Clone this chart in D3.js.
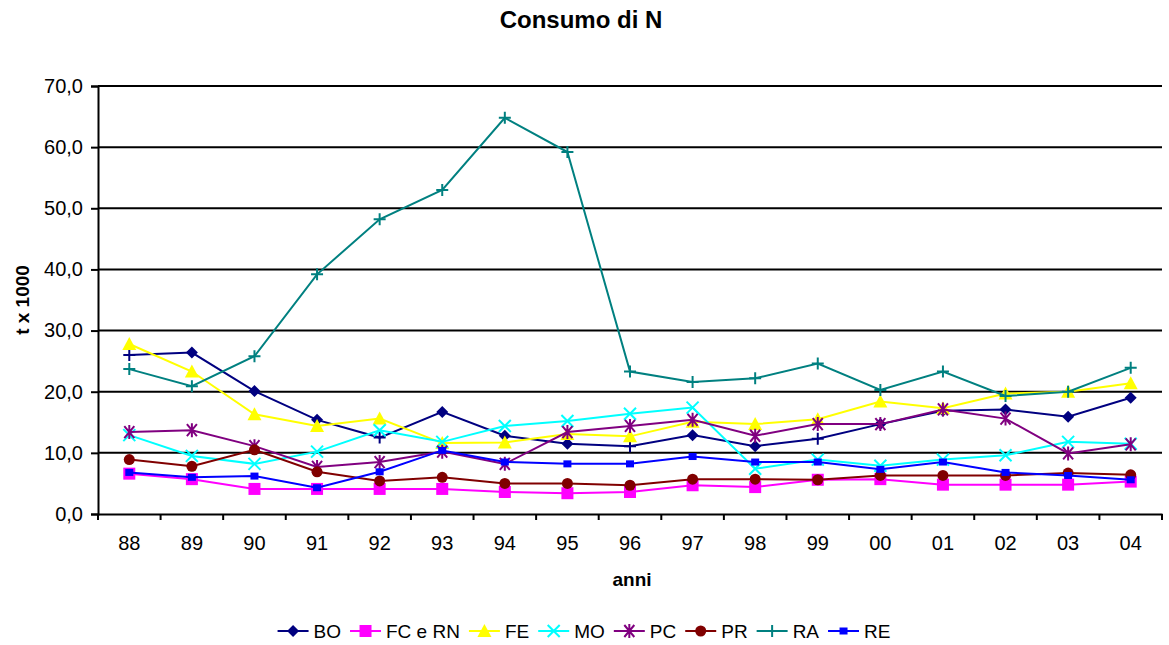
<!DOCTYPE html>
<html>
<head>
    <title>Consumo di N</title>
    <script src="https://d3js.org/d3.v7.min.js"></script>
    <style>
        body { margin: 0; background: #fff; }
        text { font-family: "Liberation Sans", Arial, sans-serif; fill: #000; }
    </style>
</head>
<body>
    <svg width="1169" height="645"></svg>
    <script>
        // anni
        const anni = ["88", "89", "90", "91", "92", "93", "94", "95", "96", "97", "98", "99", "00", "01", "02", "03", "04"];
        const yTicks = [0, 10, 20, 30, 40, 50, 60, 70];

        // valori (t x 1000)
        const BO   = [26.0, 26.4, 20.1, 15.4, 12.5, 16.7, 12.8, 11.5, 11.1, 12.9, 11.1, 12.3, 14.7, 16.9, 17.1, 15.9, 19.0];
        const FCRN = [6.6, 5.7, 4.1, 4.1, 4.1, 4.1, 3.6, 3.4, 3.6, 4.7, 4.4, 5.6, 5.7, 4.8, 4.8, 4.8, 5.3];
        const FE   = [27.8, 23.3, 16.3, 14.4, 15.6, 11.6, 11.7, 13.1, 12.7, 15.1, 14.7, 15.5, 18.4, 17.3, 19.7, 20.0, 21.4];
        const MO   = [12.9, 9.5, 8.2, 10.2, 13.7, 11.8, 14.4, 15.2, 16.4, 17.4, 7.4, 8.9, 7.9, 8.9, 9.6, 11.8, 11.5];
        const PC   = [13.4, 13.7, 11.1, 7.7, 8.5, 10.2, 8.2, 13.4, 14.4, 15.4, 12.8, 14.7, 14.7, 17.1, 15.6, 9.9, 11.4];
        const PR   = [8.9, 7.8, 10.5, 6.9, 5.4, 6.0, 5.0, 5.0, 4.7, 5.7, 5.7, 5.6, 6.3, 6.3, 6.3, 6.7, 6.4];
        const RA   = [23.7, 20.9, 25.8, 39.2, 48.2, 53.0, 64.8, 59.2, 23.3, 21.6, 22.2, 24.6, 20.3, 23.3, 19.3, 20.0, 23.9];
        const RE   = [6.8, 6.0, 6.2, 4.3, 6.9, 10.4, 8.5, 8.2, 8.2, 9.4, 8.5, 8.5, 7.3, 8.5, 6.8, 6.3, 5.6];

        const seriesNames = ["BO", "FC e RN", "FE", "MO", "PC", "PR", "RA", "RE"];
        const seriesValues = [BO, FCRN, FE, MO, PC, PR, RA, RE];
        const colors = ["#000080", "#ff00ff", "#ffff00", "#00ffff", "#800080", "#800000", "#008080", "#0000ff"];
        const shapes = ["diamond", "square", "triangle", "x", "star", "circle", "plus", "smallsquare"];
        // punti di BO disegnati con un "+" nell'originale
        const boPlusIdx = [0, 4, 8, 11];

        const svg = d3.select("svg"),
              width = +svg.attr("width"),
              height = +svg.attr("height"),
              margin = {top: 86, right: 7, bottom: 131, left: 98};

        const x = d3.scaleBand()
                    .domain(anni)
                    .range([margin.left, width - margin.right]);
        const y = d3.scaleLinear()
                    .domain([0, 70])
                    .range([height - margin.bottom, margin.top]);

        // griglia
        svg.append("g")
           .selectAll("line")
           .data(yTicks.slice(1))
           .enter().append("line")
           .attr("x1", margin.left).attr("x2", width - margin.right)
           .attr("y1", d => y(d)).attr("y2", d => y(d))
           .attr("stroke", "#000").attr("stroke-width", 2);

        // asse y
        const yAxis = svg.append("g")
           .attr("transform", `translate(${margin.left},0)`)
           .call(d3.axisLeft(y).tickValues(yTicks).tickSize(7).tickPadding(8)
                 .tickFormat(d => d3.format(".1f")(d).replace(".", ",")));
        yAxis.select(".domain").attr("stroke-width", 2);
        yAxis.selectAll(".tick line").attr("stroke-width", 2);
        yAxis.selectAll("text").style("font-size", "20px");

        // asse x
        const xAxis = svg.append("g")
           .attr("transform", `translate(0,${y(0)})`)
           .call(d3.axisBottom(x).tickSize(0).tickPadding(22));
        xAxis.select(".domain").attr("stroke-width", 2);
        xAxis.selectAll("text").style("font-size", "20px");
        svg.append("g")
           .selectAll("line")
           .data(d3.range(anni.length + 1))
           .enter().append("line")
           .attr("x1", i => margin.left + i * x.step())
           .attr("x2", i => margin.left + i * x.step())
           .attr("y1", y(0)).attr("y2", y(0) + 6)
           .attr("stroke", "#000").attr("stroke-width", 2);

        // simboli
        function drawMarker(g, shape, color, cx, cy) {
            if (shape === "diamond") {
                g.append("path").attr("d", `M${cx},${cy - 6}L${cx + 6},${cy}L${cx},${cy + 6}L${cx - 6},${cy}Z`).attr("fill", color);
            } else if (shape === "square") {
                g.append("rect").attr("x", cx - 6).attr("y", cy - 6).attr("width", 12).attr("height", 12).attr("fill", color);
            } else if (shape === "smallsquare") {
                g.append("rect").attr("x", cx - 4).attr("y", cy - 3.5).attr("width", 8).attr("height", 7).attr("fill", color);
            } else if (shape === "triangle") {
                g.append("path").attr("d", `M${cx},${cy - 7}L${cx + 7},${cy + 6}L${cx - 7},${cy + 6}Z`).attr("fill", color);
            } else if (shape === "circle") {
                g.append("circle").attr("cx", cx).attr("cy", cy).attr("r", 5.5).attr("fill", color);
            } else if (shape === "x") {
                g.append("path").attr("d", `M${cx - 6},${cy - 6}L${cx + 6},${cy + 6}M${cx - 6},${cy + 6}L${cx + 6},${cy - 6}`)
                 .attr("stroke", color).attr("stroke-width", 2);
            } else if (shape === "star") {
                g.append("path").attr("d", `M${cx - 5},${cy - 6}L${cx + 5},${cy + 6}M${cx - 5},${cy + 6}L${cx + 5},${cy - 6}M${cx},${cy - 7}L${cx},${cy + 7}`)
                 .attr("stroke", color).attr("stroke-width", 2);
            } else if (shape === "plus") {
                g.append("path").attr("d", `M${cx - 6},${cy}L${cx + 6},${cy}M${cx},${cy - 6}L${cx},${cy + 6}`)
                 .attr("stroke", color).attr("stroke-width", 2);
            }
        }

        const line = d3.line()
                       .x((d, i) => x(anni[i]) + x.bandwidth() / 2)
                       .y(d => y(d));

        seriesValues.forEach((vals, s) => {
            const g = svg.append("g");
            g.append("path")
             .datum(vals)
             .attr("d", line)
             .attr("fill", "none")
             .attr("stroke", colors[s])
             .attr("stroke-width", 2);
            vals.forEach((v, i) => {
                const shape = (s === 0 && boPlusIdx.includes(i)) ? "plus" : shapes[s];
                drawMarker(g, shape, colors[s], x(anni[i]) + x.bandwidth() / 2, y(v));
            });
        });

        // titoli
        svg.append("text")
           .attr("x", 581).attr("y", 28)
           .attr("text-anchor", "middle")
           .style("font-size", "24px").style("font-weight", "bold")
           .text("Consumo di N");
        svg.append("text")
           .attr("x", 632).attr("y", 586)
           .attr("text-anchor", "middle")
           .style("font-size", "19px").style("font-weight", "bold")
           .text("anni");
        svg.append("text")
           .attr("transform", `translate(29,${(y(0) + y(70)) / 2}) rotate(-90)`)
           .attr("text-anchor", "middle")
           .style("font-size", "19px").style("font-weight", "bold")
           .text("t x 1000");

        // legenda
        const legend = svg.append("g").attr("class", "legend");
        let lx = 0;
        seriesNames.forEach((name, s) => {
            const item = legend.append("g").attr("transform", `translate(${lx},0)`);
            item.append("line").attr("x1", 0).attr("x2", 31).attr("y1", 0).attr("y2", 0)
                .attr("stroke", colors[s]).attr("stroke-width", 2);
            drawMarker(item, shapes[s], colors[s], 15.5, 0);
            const t = item.append("text").attr("x", 36).attr("y", 0).attr("dy", "0.36em")
                .style("font-size", "19px").text(name);
            lx += 36 + t.node().getComputedTextLength() + 9;
        });
        legend.attr("transform", `translate(${584 - (lx - 9) / 2},631)`);
    </script>
</body>
</html>
